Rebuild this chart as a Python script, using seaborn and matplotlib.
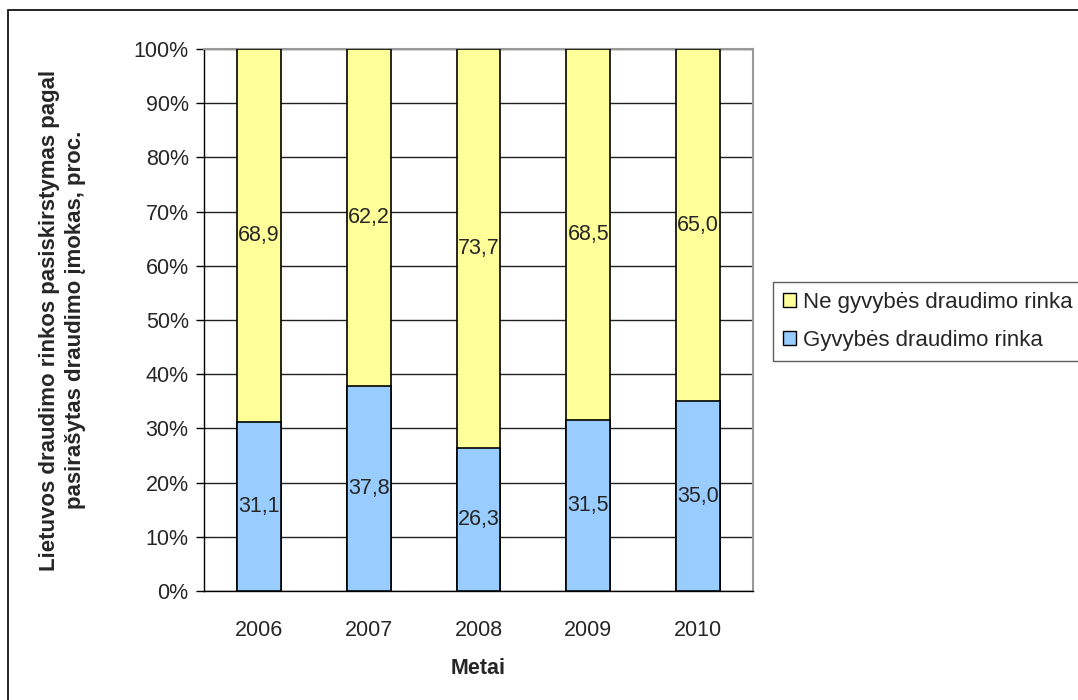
import numpy as np
import pandas as pd
from matplotlib import pyplot as plt
from matplotlib.patches import Rectangle, Patch
import seaborn as sns

# data (percent)
years = ['2006', '2007', '2008', '2009', '2010']
gyvybes = [31.1, 37.8, 26.3, 31.5, 35.0]
ne_gyvybes = [68.9, 62.2, 73.7, 68.5, 65.0]

df = pd.DataFrame({'Metai': years, 'gyv': gyvybes, 'ne_gyv': ne_gyvybes})
df['total'] = df['gyv'] + df['ne_gyv']

sns.set_style('white')
plt.rcParams['font.family'] = ['Liberation Sans', 'DejaVu Sans']

fig = plt.figure(figsize=(10.78, 7), dpi=100)
ax = fig.add_axes([204/1078, 1-591/700, 549/1078, 542/700])

# outer frame of the chart
fig.patches.append(Rectangle((8/1078, -0.05), 1.1, 1-10/700+0.05, transform=fig.transFigure,
                             fill=False, edgecolor='black', linewidth=1.2))

yellow = '#FFFF99'
blue = '#99CCFF'
fs = 15.5

# stacked: total first (yellow), then life part on top of it (blue)
sns.barplot(data=df, x='Metai', y='total', color=yellow, edgecolor='black', linewidth=1.2,
            width=0.4, saturation=1, ax=ax, zorder=3)
sns.barplot(data=df, x='Metai', y='gyv', color=blue, edgecolor='black', linewidth=1.2,
            width=0.4, saturation=1, ax=ax, zorder=3)

for i in range(len(years)):
    ax.text(i, gyvybes[i] / 2, f'{gyvybes[i]:.1f}'.replace('.', ','), ha='center', va='center',
            fontsize=fs, zorder=5)
    ax.text(i, gyvybes[i] + ne_gyvybes[i] / 2, f'{ne_gyvybes[i]:.1f}'.replace('.', ','),
            ha='center', va='center', fontsize=fs, zorder=5)

ax.set_xlim(-0.5, len(years) - 0.5)
ax.set_ylim(0, 100)
ax.set_yticks(np.arange(0, 101, 10))
ax.set_yticklabels([f'{v}%' for v in range(0, 101, 10)], fontsize=fs)
ax.yaxis.grid(True, color='#222222', linewidth=1)
ax.set_axisbelow(True)

ax.set_xticks(range(len(years)))
ax.set_xticklabels(years, fontsize=fs)
ax.set_xticks(np.arange(-0.5, len(years), 1), minor=True)
ax.tick_params(axis='x', which='major', length=0, pad=21)
ax.tick_params(axis='x', which='minor', length=7, width=1, color='black', direction='out')
ax.tick_params(axis='y', length=6, width=1, color='black', direction='out', pad=5, left=True)

for s in ['left', 'bottom']:
    ax.spines[s].set_color('black')
    ax.spines[s].set_linewidth(1)
for s in ['top', 'right']:
    ax.spines[s].set_color('#999999')
    ax.spines[s].set_linewidth(1.5)

ax.set_xlabel('Metai', fontsize=fs, fontweight='bold', labelpad=12)
ax.set_ylabel('Lietuvos draudimo rinkos pasiskirstymas pagal\npasirašytas draudimo įmokas, proc.',
              fontsize=16, fontweight='bold', labelpad=34, linespacing=1.35)

handles = [Patch(facecolor=yellow, edgecolor='black', label='Ne gyvybės draudimo rinka'),
           Patch(facecolor=blue, edgecolor='black', label='Gyvybės draudimo rinka')]
leg = fig.legend(handles=handles, loc='upper left', bbox_to_anchor=(773/1078, 1-282/700),
                 fontsize=16, frameon=True, fancybox=False, edgecolor='#333333',
                 handlelength=0.6, handleheight=0.6, handletextpad=0.3, borderpad=0.45,
                 labelspacing=0.75, borderaxespad=0)
leg.get_frame().set_linewidth(1)

fig.savefig('out.png', dpi=100)
